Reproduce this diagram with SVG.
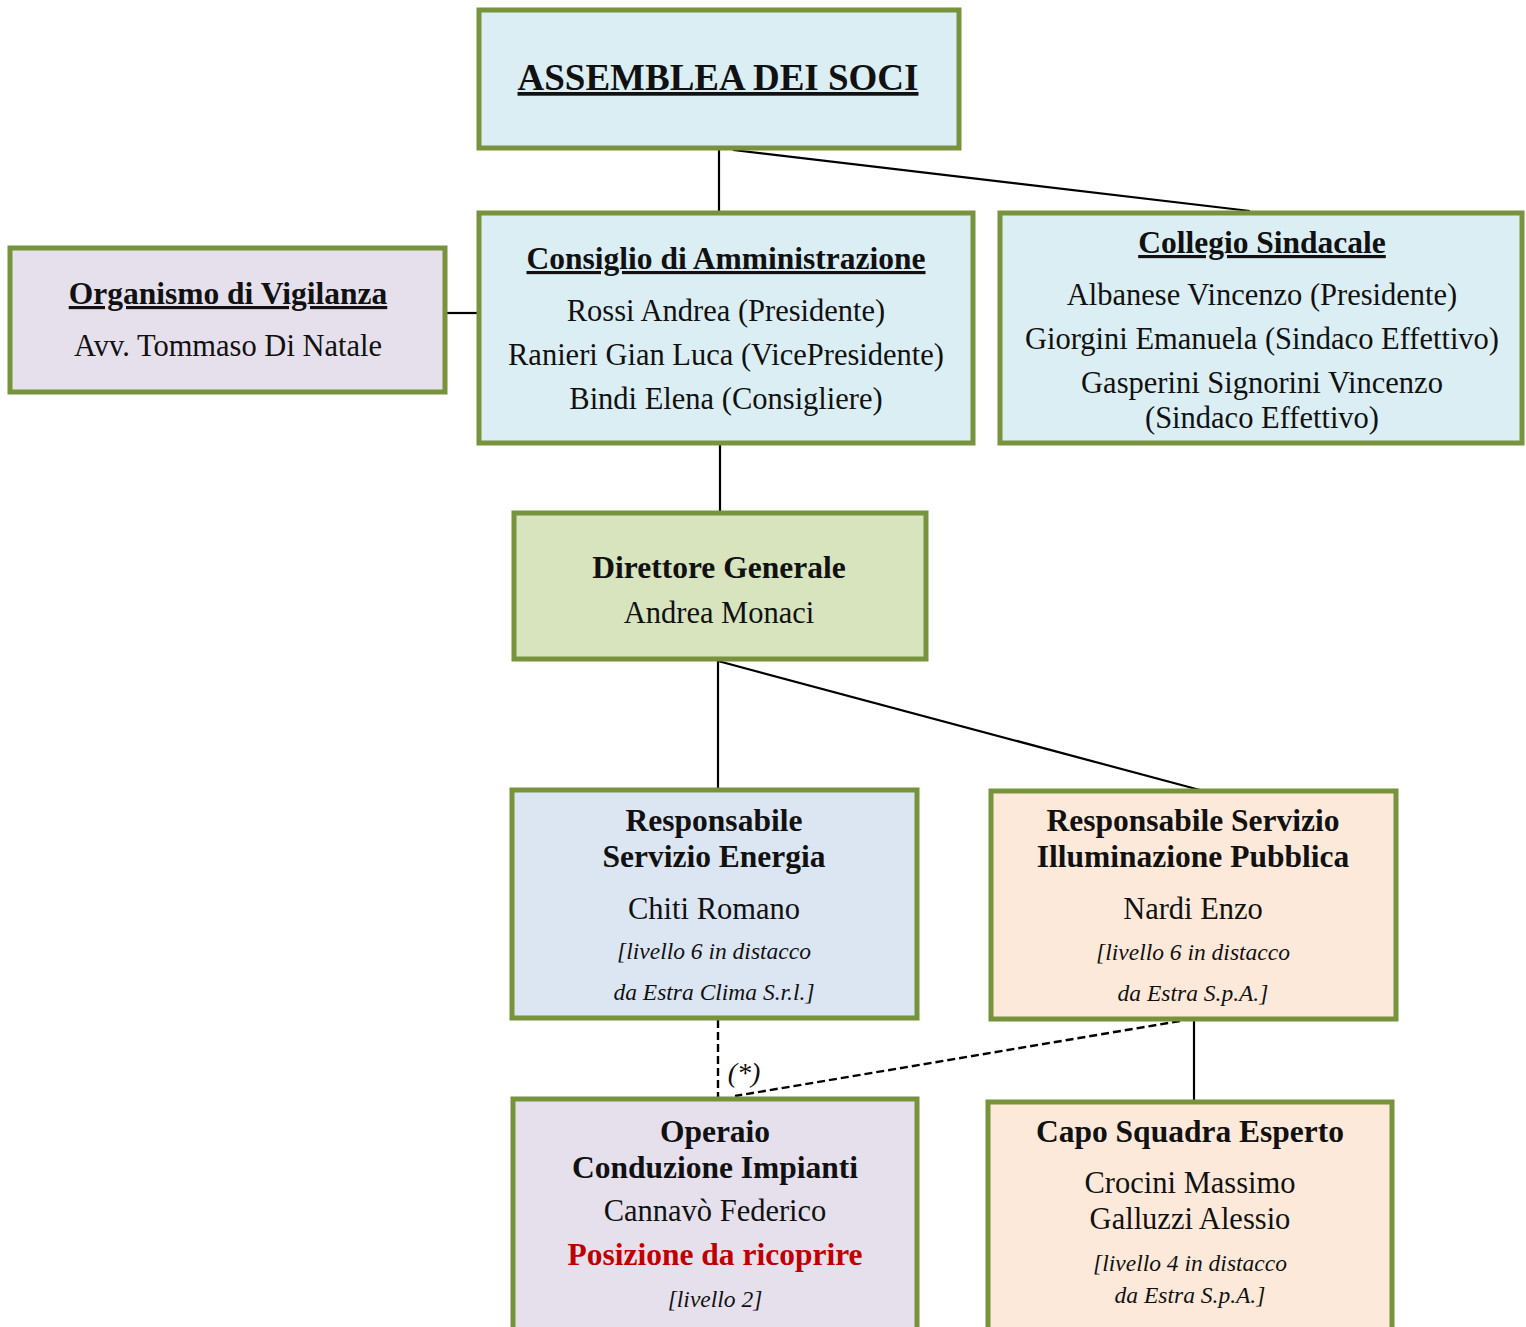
<svg xmlns="http://www.w3.org/2000/svg" width="1526" height="1327" viewBox="0 0 1526 1327">
<style>
.box{stroke:#77933c;stroke-width:5}
text{font-family:"Liberation Serif","DejaVu Serif",serif;fill:#111;text-anchor:middle}
.h{font-weight:bold;font-size:31.5px}
.u{text-decoration:underline}
.n{font-size:30.5px}
.i{font-style:italic;font-size:23.5px}
.c{stroke:#000;stroke-width:2.2;fill:none}
.d{stroke-dasharray:8 4;stroke-width:2.4}
</style>
<rect width="1526" height="1327" fill="#fff"/>
<g id="connectors">
<line class="c" x1="719" y1="150" x2="719" y2="212"/>
<line class="c" x1="733" y1="150" x2="1250" y2="211"/>
<line class="c" x1="447" y1="313" x2="477" y2="313"/>
<line class="c" x1="720" y1="445" x2="720" y2="512"/>
<line class="c" x1="718" y1="661" x2="718" y2="790"/>
<line class="c" x1="718" y1="661" x2="1200" y2="790"/>
<line class="c d" x1="718" y1="1020" x2="718" y2="1098"/>
<line class="c d" x1="1180" y1="1021" x2="735" y2="1096"/>
<line class="c" x1="1194" y1="1021" x2="1194" y2="1100"/>
<text class="i" x="744" y="1082" style="font-size:28px">(*)</text>
</g>
<g id="assemblea">
<rect class="box" x="479" y="10" width="480" height="138" fill="#dbeef4"/>
<text class="h u" x="718" y="90" style="font-size:37px">ASSEMBLEA DEI SOCI</text>
</g>
<g id="organismo">
<rect class="box" x="10" y="248" width="435" height="144" fill="#e5e0ec"/>
<text class="h u" x="228" y="304">Organismo di Vigilanza</text>
<text class="n" x="228" y="356">Avv. Tommaso Di Natale</text>
</g>
<g id="consiglio">
<rect class="box" x="479" y="213" width="494" height="230" fill="#dbeef4"/>
<text class="h u" x="726" y="269">Consiglio di Amministrazione</text>
<text class="n" x="726" y="321">Rossi Andrea (Presidente)</text>
<text class="n" x="726" y="365">Ranieri Gian Luca (VicePresidente)</text>
<text class="n" x="726" y="409">Bindi Elena (Consigliere)</text>
</g>
<g id="collegio">
<rect class="box" x="1000" y="213" width="522" height="230" fill="#dbeef4"/>
<text class="h u" x="1262" y="253">Collegio Sindacale</text>
<text class="n" x="1262" y="305">Albanese Vincenzo (Presidente)</text>
<text class="n" x="1262" y="349">Giorgini Emanuela (Sindaco Effettivo)</text>
<text class="n" x="1262" y="393">Gasperini Signorini Vincenzo</text>
<text class="n" x="1262" y="428">(Sindaco Effettivo)</text>
</g>
<g id="direttore">
<rect class="box" x="514" y="513" width="412" height="146" fill="#d7e4bd"/>
<text class="h" x="719" y="578">Direttore Generale</text>
<text class="n" x="719" y="623">Andrea Monaci</text>
</g>
<g id="energia">
<rect class="box" x="512" y="790" width="405" height="228" fill="#dce6f2"/>
<text class="h" x="714" y="831">Responsabile</text>
<text class="h" x="714" y="867">Servizio Energia</text>
<text class="n" x="714" y="919">Chiti Romano</text>
<text class="i" x="714" y="959">[livello 6 in distacco</text>
<text class="i" x="714" y="1000">da Estra Clima S.r.l.]</text>
</g>
<g id="illuminazione">
<rect class="box" x="991" y="791" width="405" height="228" fill="#fde9d9"/>
<text class="h" x="1193" y="831">Responsabile Servizio</text>
<text class="h" x="1193" y="867">Illuminazione Pubblica</text>
<text class="n" x="1193" y="919">Nardi Enzo</text>
<text class="i" x="1193" y="960">[livello 6 in distacco</text>
<text class="i" x="1193" y="1001">da Estra S.p.A.]</text>
</g>
<g id="operaio">
<rect class="box" x="513" y="1099" width="404" height="234" fill="#e5e0ec"/>
<text class="h" x="715" y="1142">Operaio</text>
<text class="h" x="715" y="1178">Conduzione Impianti</text>
<text class="n" x="715" y="1221">Cannavò Federico</text>
<text class="h" x="715" y="1265" style="fill:#c00000">Posizione da ricoprire</text>
<text class="i" x="715" y="1307">[livello 2]</text>
</g>
<g id="caposquadra">
<rect class="box" x="988" y="1102" width="404" height="231" fill="#fde9d9"/>
<text class="h" x="1190" y="1142">Capo Squadra Esperto</text>
<text class="n" x="1190" y="1193">Crocini Massimo</text>
<text class="n" x="1190" y="1229">Galluzzi Alessio</text>
<text class="i" x="1190" y="1271">[livello 4 in distacco</text>
<text class="i" x="1190" y="1303">da Estra S.p.A.]</text>
</g>
</svg>
